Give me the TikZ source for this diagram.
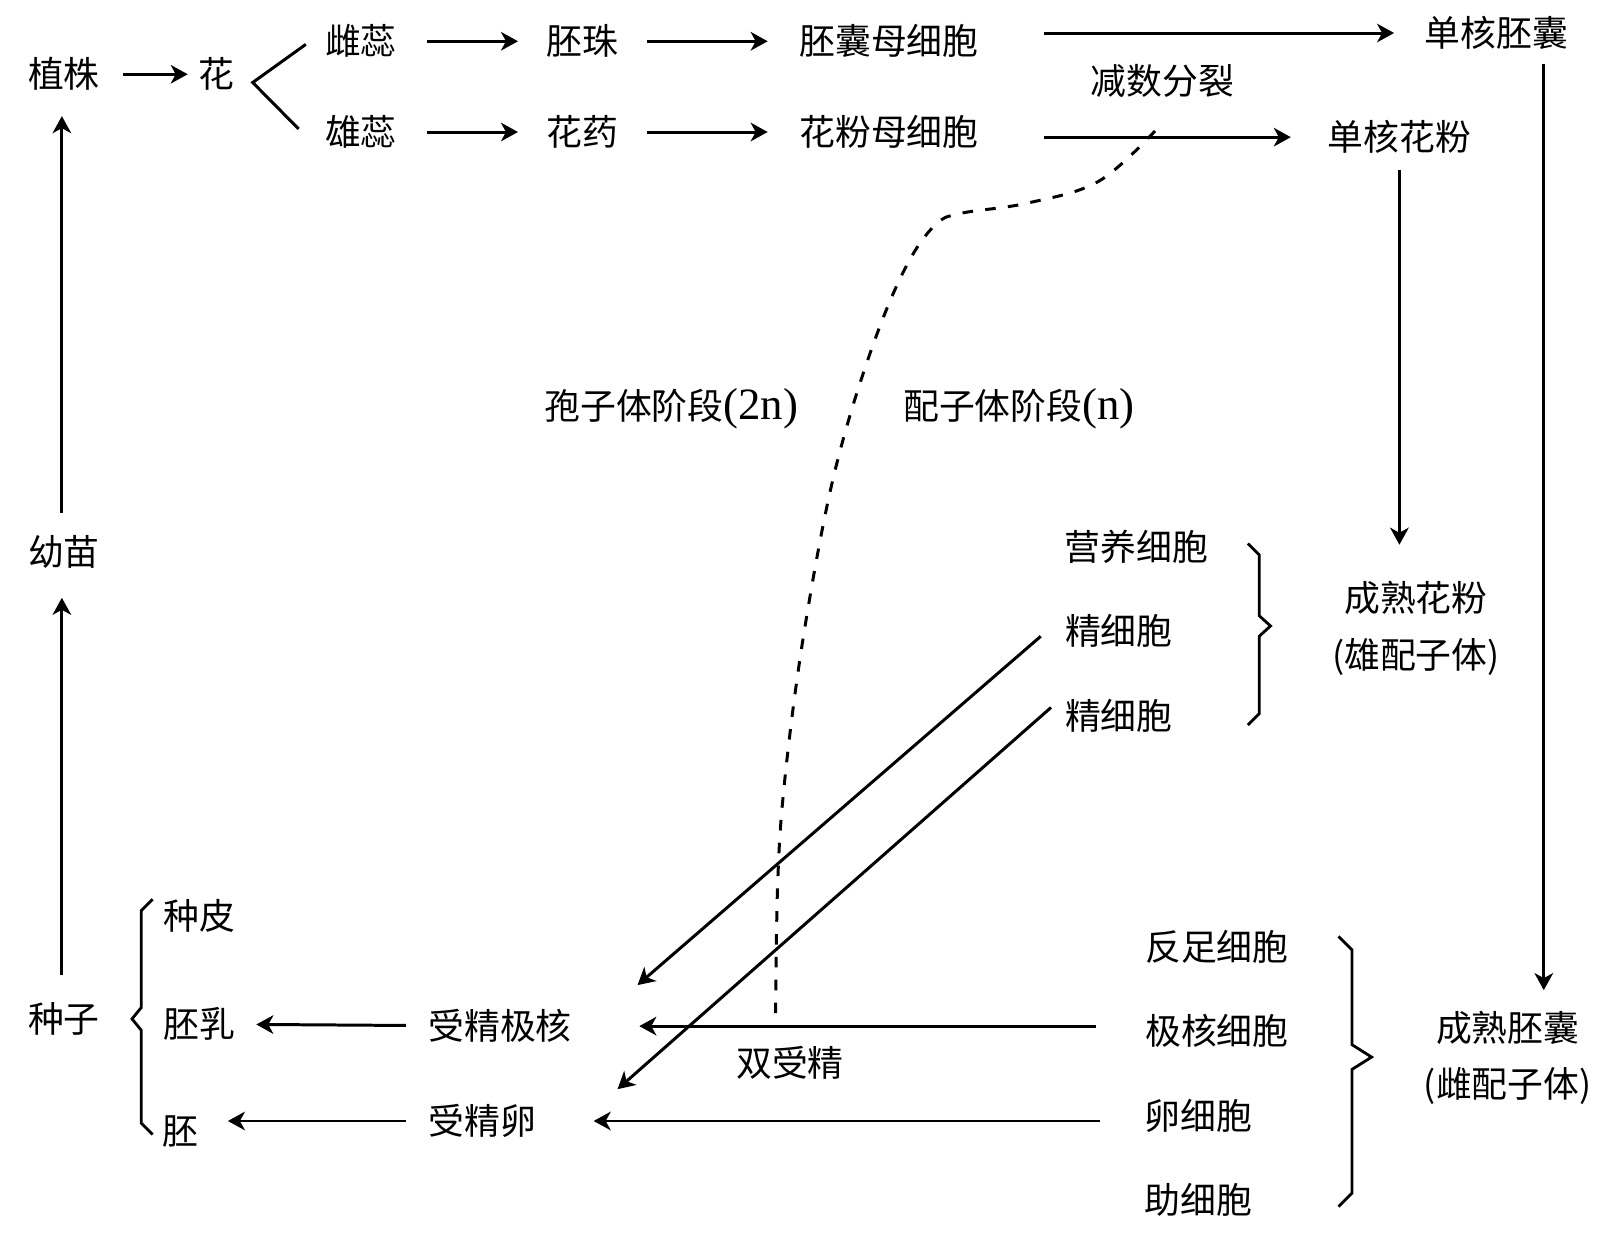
\documentclass[tikz,border=0pt]{standalone}
\usepackage{fontspec}
\setmainfont{Noto Sans CJK SC}
\newfontfamily\latfont[Scale=1.25]{Liberation Serif}
\usetikzlibrary{arrows.meta,calc}

\begin{document}
\begin{tikzpicture}[x=0.01031cm,y=-0.01031cm,
  every node/.style={inner sep=0pt,font=\fontsize{10.2}{12}\selectfont},
  arr/.style={-{Stealth[length=1.7mm,width=1.85mm,inset=0.5mm]},line width=0.85pt},
  lnk/.style={line width=0.85pt},
  brace/.style={line width=0.8pt,line join=miter}]

\useasboundingbox (0,0) rectangle (1568,1207);

% Zhizhu
\node (zhizhu) at (62,72) {植株};
\node (hua) at (210,72) {花};
\node (cixin) at (350,40) {雌蕊};
\node (xiongxin) at (350,128) {雄蕊};
\node (peizhu) at (565,40) {胚珠};
\node (huayao) at (565,128) {花药};
\node (pnmxb) at (862,40) {胚囊母细胞};
\node (hfmxb) at (862,128) {花粉母细胞};
\node (dhpn) at (1451,32) {单核胚囊};
\node (dhhf) at (1357,133) {单核花粉};
\node (jsfl) at (1127,78) {减数分裂};

\draw[arr, shorten <=6.4pt, shorten >=2.9pt] (zhizhu) -- (hua);
\coordinate (fork) at ($(hua.east)+(17,8)$);
\draw[lnk] ($(cixin.west)+(-18,3)$) -- (fork) -- ($(xiongxin.west)+(-25,-3)$);
\draw[arr, shorten <=8.5pt, shorten >=8pt] (cixin) -- (peizhu);
\draw[arr, shorten <=8.5pt, shorten >=8pt] (xiongxin) -- (huayao);
\draw[arr, shorten <=7.9pt, shorten >=8.8pt] (peizhu) -- (pnmxb);
\draw[arr, shorten <=7.9pt, shorten >=8.8pt] (huayao) -- (hfmxb);
\draw[arr, shorten <=18.5pt, shorten >=8.5pt] (pnmxb.east |- dhpn) -- (dhpn);
\draw[arr, shorten <=18.5pt, shorten >=10.3pt] (hfmxb.east |- dhhf) -- (dhhf);

% Xiong peizi ti
\node (yyxb) at (1102,530) {营养细胞};
\node (jxb1) at (1085,612) {精细胞};
\node (jxb2) at (1085,694) {精细胞};
\node (cshf) at (1373,580) {成熟花粉};
\node (xpzt) at (1373,637) {(雄配子体)};

\draw[arr, shorten <=4.4pt, shorten >=15.2pt] (dhhf) -- (dhhf |- cshf);
\draw[brace] (1210,527) -- (1221,538) -- (1221,597) -- (1232,607) -- (1221,617) -- (1221,692) -- (1210,703);

% Ci peizi ti
\node (fzxb) at (1180,918) {反足细胞};
\node (jhxb) at (1180,1000) {极核细胞};
\node (lxb) at (1162,1082) {卵细胞};
\node (zxb) at (1162,1163) {助细胞};
\node (cspn) at (1462,997) {成熟胚囊};
\node (cpzt) at (1462,1053) {(雌配子体)};

\draw[arr] ($(dhpn.south)+(46,13)$) -- ($(cspn.north)+(35,-20)$);
\draw[brace] (1298,908) -- (1311,921) -- (1311,1013) -- (1330,1025) -- (1311,1037) -- (1311,1157) -- (1298,1170);

% Shuang shoujing
\node (sjjh) at (485,995) {受精极核};
\node (sjl) at (468,1087) {受精卵};
\node (ssj) at (766,1031) {双受精};

\draw[arr] ($(jxb1.west)+(-23,5)$) -- ($(sjjh.north east)+(63,-23)$);
\draw[arr] ($(jxb2.west)+(-13,-8)$) -- ($(sjl.north east)+(78,-14)$);
\draw[arr, shorten <=13.8pt, shorten >=19pt] (sjjh -| jhxb.west) -- (sjjh);
\draw[arr, shorten <=12.6pt, shorten >=16.1pt] (sjl -| lxb.west) -- (sjl);

% Zhongzi
\node (zhongzi) at (62,988) {种子};
\node (zhongpi) at (193,888) {种皮};
\node (peiru) at (193,993) {胚乳};
\node (pei) at (175,1097) {胚};
\node (youmiao) at (62,535) {幼苗};

\draw[brace] (148,872) -- (137,883) -- (137,977) -- (128,988) -- (137,999) -- (137,1089) -- (148,1100);
\draw[arr, shorten <=6.2pt, shorten >=5.9pt] (sjjh) -- (peiru);
\draw[arr, shorten <=6.2pt, shorten >=8.2pt] (sjl) -- (sjl -| pei.east);
\draw[arr, shorten <=7.6pt, shorten >=8.2pt] ($(zhongzi.north)+(-2,0)$) -- ($(youmiao.south)+(-2,0)$);
\draw[arr, shorten <=6.2pt, shorten >=7pt] ($(youmiao.north)+(-2,0)$) -- ($(zhizhu.south)+(-2,0)$);

% Jieduan
\node (bzt) at (651,396) {孢子体阶段\latfont(2n)};
\node (pzt) at (988,396) {配子体阶段\latfont(n)};

\draw[lnk, dash pattern=on 3pt off 3.5pt] plot[smooth, tension=0.6] coordinates {(1120,127) (1065,176) (996,197) (931,207) (907,218) (881,254) (853,317) (823,407) (800,500) (776,637) (760,766) (754,860) (752,992)};

\end{tikzpicture}
\end{document}
